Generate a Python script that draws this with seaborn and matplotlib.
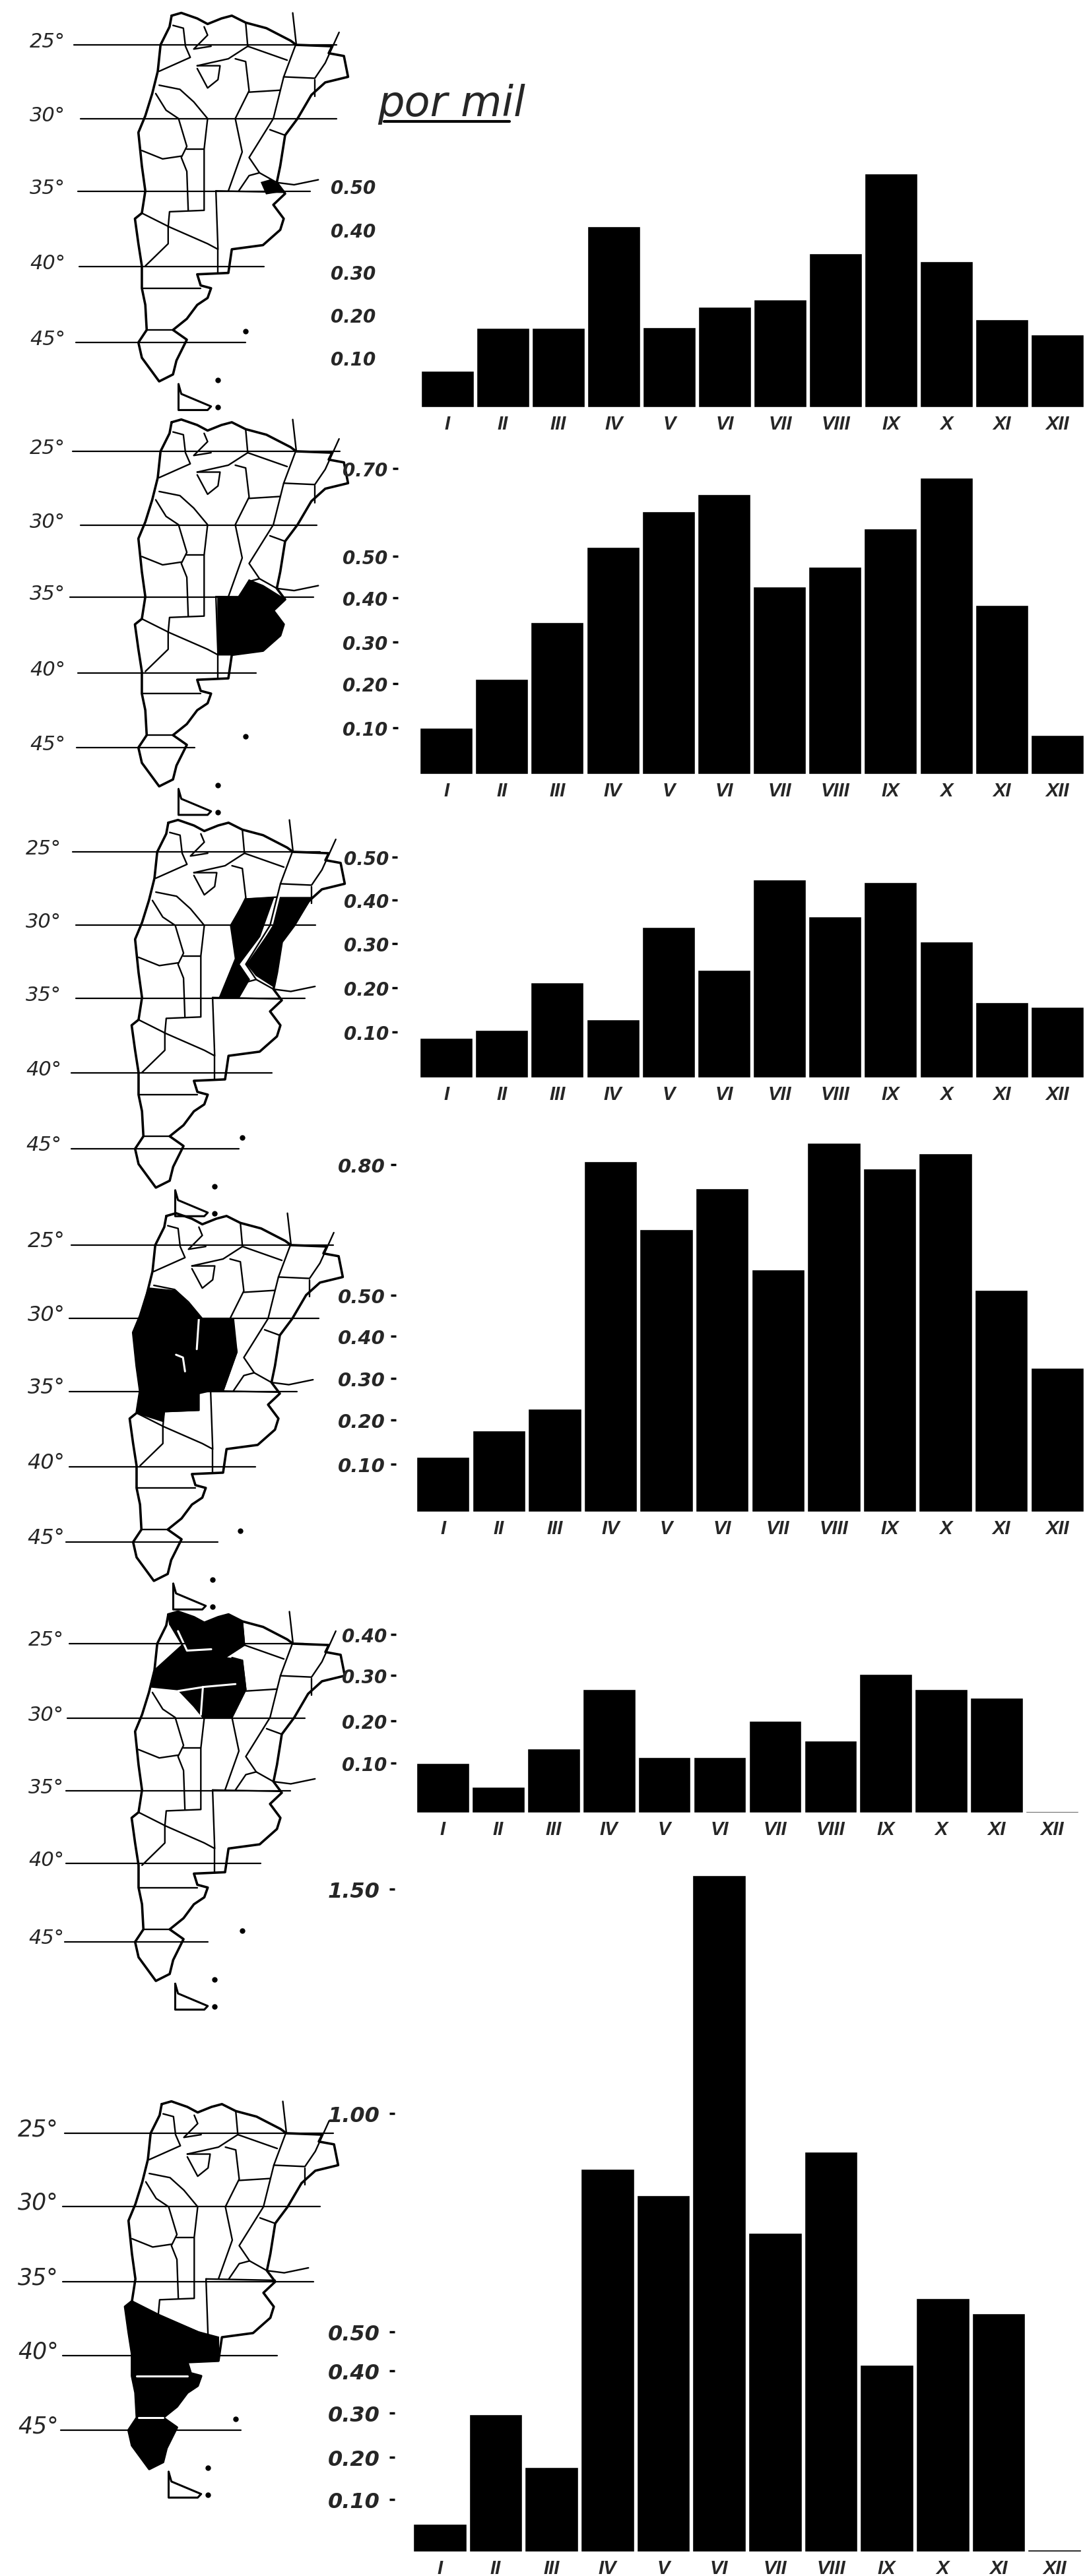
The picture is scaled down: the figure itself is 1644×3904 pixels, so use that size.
import matplotlib
matplotlib.use("Agg")
import matplotlib.pyplot as plt
import pandas as pd
import seaborn as sns

W, H = 1644, 3905

# ----------------------------------------------------------
# Data (rate per thousand)
# ----------------------------------------------------------
months = ["I", "II", "III", "IV", "V", "VI", "VII", "VIII", "IX", "X", "XI", "XII"]

rate_capital = [0.084, 0.184, 0.184, 0.421, 0.186, 0.234, 0.251, 0.358, 0.544, 0.340, 0.205, 0.169]
rate_bsas = [0.106, 0.218, 0.348, 0.521, 0.603, 0.643, 0.430, 0.476, 0.563, 0.680, 0.388, 0.089]
rate_litoral = [0.090, 0.108, 0.217, 0.132, 0.343, 0.245, 0.451, 0.367, 0.445, 0.310, 0.171, 0.161]
rate_centro = [0.128, 0.189, 0.240, 0.817, 0.658, 0.754, 0.565, 0.860, 0.800, 0.835, 0.517, 0.335]
rate_norte = [0.116, 0.060, 0.150, 0.288, 0.130, 0.130, 0.214, 0.167, 0.323, 0.288, 0.268, 0.003]
rate_sur = [0.062, 0.306, 0.188, 0.853, 0.794, 1.507, 0.710, 0.891, 0.416, 0.565, 0.531, 0.004]

labels_capital = ["0.10", "0.20", "0.30", "0.40", "0.50"]
labels_bsas = ["0.10", "0.20", "0.30", "0.40", "0.50", "0.70"]
labels_litoral = ["0.10", "0.20", "0.30", "0.40", "0.50"]
labels_centro = ["0.10", "0.20", "0.30", "0.40", "0.50", "0.80"]
labels_norte = ["0.10", "0.20", "0.30", "0.40"]
labels_sur = ["0.10", "0.20", "0.30", "0.40", "0.50", "1.00", "1.50"]

lat_names = ["25°", "30°", "35°", "40°", "45°"]

# ----------------------------------------------------------
# Map drawing, in units of one traced map
# ----------------------------------------------------------
outline = [(248, 60), (262, 50), (285, 70), (300, 90), (320, 70), (335, 60), (355, 85), (385, 105), (420, 150),
           (428, 165), (480, 170), (475, 195), (497, 205), (503, 280), (470, 300), (450, 345), (430, 430),
           (412, 490), (405, 600), (400, 660), (412, 700), (395, 740), (410, 790), (405, 830), (380, 885),
           (335, 900), (330, 985), (285, 990), (290, 1030), (305, 1040), (300, 1075), (285, 1100), (270, 1150),
           (250, 1190), (270, 1225), (255, 1300), (250, 1350), (230, 1375), (205, 1290), (200, 1235), (212, 1190),
           (210, 1100), (205, 1040), (205, 960), (200, 880), (195, 790), (205, 770), (210, 690), (205, 600),
           (200, 480), (210, 420), (220, 340), (228, 260), (232, 165), (245, 100), (248, 60)]
borders = [
    [(423, 50), (428, 160), (410, 280), (395, 430), (385, 470), (360, 570), (375, 625), (400, 660), (425, 668), (460, 650)],
    [(355, 85), (358, 170), (330, 215), (285, 240)],
    [(358, 170), (415, 220)],
    [(250, 95), (265, 105), (268, 170), (275, 210), (230, 260)],
    [(295, 100), (300, 130), (280, 180), (305, 170)],
    [(285, 240), (318, 240), (315, 290), (300, 320), (285, 250)],
    [(340, 215), (355, 225), (360, 330), (340, 430), (350, 550), (330, 690)],
    [(360, 335), (405, 328)],
    [(410, 280), (455, 285), (470, 230), (490, 120)],
    [(455, 290), (455, 350)],
    [(230, 310), (260, 325), (280, 370), (300, 430), (295, 540), (295, 760), (245, 765), (243, 820)],
    [(225, 340), (240, 400), (258, 430), (270, 530), (262, 570), (270, 620), (272, 760)],
    [(205, 545), (235, 575), (262, 565)],
    [(295, 540), (270, 540)],
    [(205, 770), (245, 820), (300, 880), (315, 900), (312, 690)],
    [(243, 820), (243, 880), (210, 960)],
    [(315, 900), (315, 985)],
    [(205, 1040), (290, 1040)],
    [(212, 1190), (250, 1190)],
    [(390, 470), (412, 490)],
    [(345, 690), (360, 635), (375, 625)],
    [(312, 690), (412, 695)],
]
island = [(258, 1385), (262, 1420), (305, 1465), (300, 1478), (258, 1478), (258, 1385)]
dots = [(355, 1195), (315, 1370), (315, 1468)]

shade_capital = [[(378, 660), (392, 650), (410, 690), (385, 700)]]
shade_bsas = [[(315, 690), (345, 690), (360, 630), (380, 650), (412, 700), (395, 740), (410, 790), (405, 830),
               (380, 885), (335, 900), (315, 900)]]
shade_litoral = [[(360, 335), (400, 330), (380, 470), (350, 570), (365, 625), (350, 690), (322, 690), (345, 550), (338, 430)],
                 [(410, 330), (455, 330), (430, 430), (412, 490), (405, 600), (400, 650), (375, 610), (362, 570), (390, 470), (400, 430)]]
shade_centro = [[(222, 320), (262, 330), (285, 390), (298, 430), (345, 430), (350, 550), (330, 690), (312, 690),
                 (295, 700), (295, 760), (245, 765), (243, 800), (205, 770), (210, 690), (205, 600), (200, 480), (210, 420)]]
shade_norte = [[(248, 60), (262, 50), (285, 70), (300, 90), (320, 70), (335, 60), (355, 85), (358, 170), (330, 215),
                (355, 225), (360, 330), (340, 430), (298, 430), (285, 390), (262, 330), (222, 320), (228, 260), (268, 170), (250, 95)]]
shade_sur = [[(205, 770), (243, 820), (300, 880), (330, 900), (330, 985), (285, 990), (290, 1030), (305, 1040),
              (300, 1075), (285, 1100), (270, 1150), (250, 1190), (270, 1225), (255, 1300), (250, 1350), (230, 1375),
              (205, 1290), (200, 1235), (212, 1190), (210, 1100), (205, 1040), (205, 960), (200, 880), (195, 790)]]

# white gaps left inside the black areas of the print
gaps_centro = [[(262, 560), (272, 570), (275, 620)], [(295, 430), (292, 540)]]
gaps_norte = [[(262, 120), (275, 190), (310, 185)], [(262, 335), (300, 320), (345, 310)], [(298, 320), (295, 420)]]
gaps_sur = [[(212, 1040), (285, 1040)], [(215, 1190), (250, 1190)]]

# ----------------------------------------------------------
# One entry per row of the figure
# ----------------------------------------------------------
panels = [
    dict(values=rate_capital, labels=labels_capital, ticks=[0.115, 0.215, 0.315, 0.414, 0.515],
         left=636, right=1644, base=618, scale=650, tick_x=0, font=20, pad=3, shade=shade_capital, gaps=[], dx=0,
         lat_y=[69, 181, 291, 405, 520], lat_l=[112, 122, 118, 120, 115], lat_r=[510, 510, 470, 400, 372], lab_x=72),
    dict(values=rate_bsas, labels=labels_bsas, ticks=[0.106, 0.208, 0.303, 0.405, 0.500, 0.702],
         left=634, right=1644, base=1174, scale=660, tick_x=603, font=20, pad=5, shade=shade_bsas, gaps=[], dx=0,
         lat_y=[685, 797, 906, 1021, 1134], lat_l=[110, 122, 106, 118, 116], lat_r=[515, 480, 475, 388, 295], lab_x=72),
    dict(values=rate_litoral, labels=labels_litoral, ticks=[0.104, 0.205, 0.306, 0.404, 0.503],
         left=634, right=1644, base=1634, scale=665, tick_x=602, font=20, pad=3, shade=shade_litoral, gaps=[], dx=-5,
         lat_y=[1292, 1403, 1514, 1627, 1742], lat_l=[110, 115, 115, 108, 108], lat_r=[485, 478, 462, 412, 362], lab_x=66),
    dict(values=rate_centro, labels=labels_centro, ticks=[0.111, 0.214, 0.311, 0.409, 0.505, 0.809],
         left=629, right=1644, base=2292, scale=650, tick_x=600, font=21, pad=6, shade=shade_centro, gaps=gaps_centro, dx=-8,
         lat_y=[1888, 1999, 2110, 2224, 2338], lat_l=[108, 105, 105, 105, 100], lat_r=[505, 483, 450, 387, 330], lab_x=70),
    dict(values=rate_norte, labels=labels_norte, ticks=[0.115, 0.214, 0.320, 0.415],
         left=629, right=1636, base=2748, scale=650, tick_x=600, font=20, pad=4, shade=shade_norte, gaps=gaps_norte, dx=-5,
         lat_y=[2492, 2605, 2715, 2825, 2944], lat_l=[105, 102, 100, 100, 98], lat_r=[460, 462, 440, 395, 315], lab_x=70),
    dict(values=rate_sur, labels=labels_sur, ticks=[0.116, 0.210, 0.309, 0.403, 0.489, 0.976, 1.476],
         left=624, right=1640, base=3868, scale=680, tick_x=598, font=23, pad=10, shade=shade_sur, gaps=gaps_sur, dx=-15,
         lat_y=[3234, 3345, 3459, 3571, 3684], lat_l=[98, 95, 95, 95, 92], lat_r=[505, 485, 475, 420, 365], lab_x=58),
]

sns.set_theme(style="white")
plt.rcParams["font.family"] = ["DejaVu Sans"]

fig = plt.figure(figsize=(W / 100, H / 100), dpi=100, facecolor="white")

# overlay in pixel coordinates for the maps and the parallels
bg = fig.add_axes([0, 0, 1, 1])
bg.set_xlim(0, W)
bg.set_ylim(H, 0)
bg.axis("off")


def draw_map(p):
    y25, y45 = p["lat_y"][0], p["lat_y"][4]

    def tr(pts):
        xs = [a * 1.0485 + p["dx"] for a, b in pts]
        ys = [y25 + (b - 165) / 1070 * (y45 - y25) for a, b in pts]
        return xs, ys

    x, y = tr(outline)
    bg.plot(x, y, color="black", lw=2.6)
    for line in borders:
        x, y = tr(line)
        bg.plot(x, y, color="black", lw=1.7)
    for poly in p["shade"]:
        x, y = tr(poly)
        bg.fill(x, y, color="black", lw=1.5)
    for line in p["gaps"]:
        x, y = tr(line)
        bg.plot(x, y, color="white", lw=2.2)
    x, y = tr(island)
    bg.plot(x, y, color="black", lw=2.2)
    x, y = tr(dots)
    bg.plot(x, y, "o", color="black", ms=5)

    for name, yy, l, r in zip(lat_names, p["lat_y"], p["lat_l"], p["lat_r"]):
        bg.plot([l, r], [yy, yy], color="black", lw=1.6)
        bg.text(p["lab_x"], yy - 6, name, ha="center", va="center", fontsize=p["font"] + 2,
                fontstyle="oblique")


def draw_bars(p):
    top = max(max(p["values"]), max(p["ticks"])) * 1.02
    height_px = top * p["scale"]
    ax = fig.add_axes([p["left"] / W, 1 - p["base"] / H, (p["right"] - p["left"]) / W, height_px / H])
    ax.patch.set_alpha(0)
    df = pd.DataFrame({"mes": months, "tasa": p["values"]})
    sns.barplot(data=df, x="mes", y="tasa", color="black", saturation=1, width=0.95, ax=ax)
    ax.set_xlim(-0.5, 11.5)
    ax.set_ylim(0, top)
    ax.set_xlabel("")
    ax.set_ylabel("")
    sns.despine(ax=ax, left=True, bottom=True, top=True, right=True)

    ax.set_yticks(p["ticks"])
    ax.set_yticklabels(p["labels"])
    if p["tick_x"]:
        ax.spines["left"].set_position(("outward", (p["left"] - p["tick_x"]) * 0.72))
        ax.tick_params(axis="y", left=True, length=6, width=2.5, color="black", pad=p["pad"], labelsize=p["font"])
    else:
        ax.spines["left"].set_position(("outward", (p["left"] - 582) * 0.72))
        ax.tick_params(axis="y", left=False, pad=p["pad"], labelsize=p["font"])
    ax.tick_params(axis="x", bottom=False, pad=2, labelsize=21)
    for t in ax.get_yticklabels():
        t.set_fontstyle("oblique")
        t.set_fontweight("bold")
    for t in ax.get_xticklabels():
        t.set_fontfamily("Liberation Sans")
        t.set_fontstyle("italic")
        t.set_fontweight("bold")


for p in panels:
    draw_map(p)
    draw_bars(p)

# "por mil" heading with its hand-drawn underline
bg.text(572, 158, "por mil", ha="left", va="center", fontsize=46, fontstyle="oblique")
bg.plot([582, 772], [185, 185], color="black", lw=3)

fig.savefig("out.png", dpi=100)
